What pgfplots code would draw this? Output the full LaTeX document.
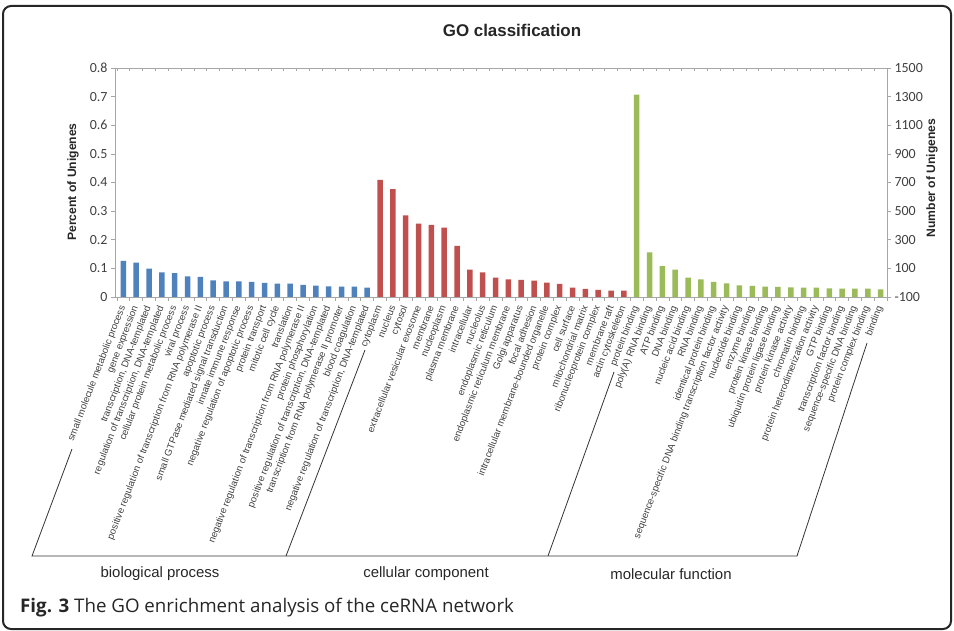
\documentclass[border=0pt]{standalone}
\usepackage{fontspec}
\setmainfont{Liberation Sans}
\newfontfamily\calib{Carlito}
\newfontfamily\opens{Open Sans}
\usepackage{pgfplots}
\usepackage{pgfplotstable}
\pgfplotsset{compat=1.18}

\definecolor{bpblue}{HTML}{4F81BD}
\definecolor{ccred}{HTML}{C0504D}
\definecolor{mfgreen}{HTML}{9BBB59}
\definecolor{axgray}{HTML}{A6A6A6}
\definecolor{txgray}{HTML}{404040}

% percent of unigenes
\pgfplotstableread{
x y
0 0.126
1 0.120
2 0.099
3 0.086
4 0.083
5 0.072
6 0.070
7 0.058
8 0.055
9 0.055
10 0.053
11 0.049
12 0.047
13 0.047
14 0.042
15 0.040
16 0.037
17 0.036
18 0.036
19 0.033
}\bpdata
\pgfplotstableread{
x y
20 0.409
21 0.377
22 0.285
23 0.256
24 0.252
25 0.242
26 0.179
27 0.096
28 0.086
29 0.068
30 0.062
31 0.060
32 0.057
33 0.050
34 0.046
35 0.033
36 0.028
37 0.025
38 0.022
39 0.022
}\ccdata
\pgfplotstableread{
x y
40 0.707
41 0.156
42 0.108
43 0.096
44 0.068
45 0.062
46 0.0525
47 0.048
48 0.041
49 0.0385
50 0.036
51 0.035
52 0.034
53 0.0325
54 0.0325
55 0.0305
56 0.029
57 0.029
58 0.029
59 0.027
}\mfdata

\pgfplotsset{
  goframe/.style={
    at={(115bp,-297bp)}, anchor=south west,
    width=772bp, height=229bp, scale only axis,
    xmin=-0.65, xmax=59.5,
    axis line style={draw=axgray, line width=0.8bp},
  },
}

\begin{document}
\begin{tikzpicture}[x=1bp,y=1bp]
\useasboundingbox (0,0) rectangle (954,-631);
\draw[line width=2bp, rounded corners=8bp, black!85] (3,-6) rectangle (951,-629);

\node[font=\bfseries\fontsize{17}{18}\selectfont, text=black!85] at (512,-30) {GO classification};

\begin{axis}[
  goframe, ymin=0, ymax=0.8,
  tick pos=left, tick align=outside,
  major tick length=4bp,
  ytick style={draw=axgray, line width=0.6bp},
  xtick style={draw=none},
  ytick={0,0.1,...,0.8},
  yticklabels={0,0.1,0.2,0.3,0.4,0.5,0.6,0.7,0.8},
  yticklabel style={font=\calib\fontsize{14}{14}\selectfont, text=txgray},
  xtick={0,...,59},
  xticklabel style={yshift=-4bp, rotate=69, anchor=east, inner sep=1bp,
    font=\fontsize{9.7}{10}\selectfont, text=txgray},
  xticklabels={
    small molecule metabolic process, gene expression,
    {transcription, DNA-templated},
    {regulation of transcription, DNA-templated},
    cellular protein metabolic process, viral process,
    positive regulation of transcription from RNA polymerase II,
    apoptotic process, small GTPase mediated signal transduction,
    innate immune response, negative regulation of apoptotic process,
    protein transport, mitotic cell cycle, translation,
    negative regulation of transcription from RNA polymerase II,
    protein phosphorylation,
    {positive regulation of transcription, DNA-templated},
    transcription from RNA polymerase II promoter, blood coagulation,
    {negative regulation of transcription, DNA-templated},
    cytoplasm, nucleus, cytosol, extracellular vesicular exosome,
    membrane, nucleoplasm, plasma membrane, intracellular, nucleolus,
    endoplasmic reticulum, endoplasmic reticulum membrane,
    Golgi apparatus, focal adhesion,
    intracellular membrane-bounded organelle, protein complex,
    cell surface, mitochondrial matrix, ribonucleoprotein complex,
    membrane raft, actin cytoskeleton,
    protein binding, poly(A) RNA binding, ATP binding, DNA binding,
    nucleic acid binding, RNA binding, identical protein binding,
    sequence-specific DNA binding transcription factor activity,
    nucleotide binding, enzyme binding, protein kinase binding,
    ubiquitin protein ligase binding, protein kinase activity,
    chromatin binding, protein heterodimerization activity,
    GTP binding, transcription factor binding,
    sequence-specific DNA binding, protein complex binding, binding},
]
\addplot[ybar, bar width=5.5bp, bar shift=0pt, fill=bpblue, draw=none]
  table[x=x, y=y] {\bpdata};
\addplot[ybar, bar width=5.5bp, bar shift=0pt, fill=ccred, draw=none]
  table[x=x, y=y] {\ccdata};
\addplot[ybar, bar width=5.5bp, bar shift=0pt, fill=mfgreen, draw=none]
  table[x=x, y=y] {\mfdata};
\end{axis}

% right-hand scale: number of unigenes
\begin{axis}[
  goframe, ymin=-100, ymax=1500,
  axis x line=none, axis y line*=right,
  tick align=outside, major tick length=4bp,
  every tick/.style={draw=axgray, line width=0.6bp},
  ytick={-100,100,...,1500},
  yticklabels={-100,100,300,500,700,900,1100,1300,1500},
  yticklabel style={font=\calib\fontsize{14}{14}\selectfont, text=txgray},
]
\end{axis}

% small ticks under the top edge
\begin{axis}[
  goframe, ymin=0, ymax=0.8,
  axis y line=none, axis x line*=top,
  tick align=inside, major tick length=3.5bp,
  every tick/.style={draw=axgray, line width=0.6bp},
  xtick={-0.5,0.5,...,59.5}, xticklabels={},
]
\end{axis}

% small ticks below the bottom edge, between categories
\begin{axis}[
  goframe, ymin=0, ymax=0.8,
  axis y line=none, axis x line*=bottom,
  tick align=outside, major tick length=3.5bp,
  every tick/.style={draw=axgray, line width=0.6bp},
  xtick={-0.5,0.5,...,59.5}, xticklabels={},
]
\end{axis}

\node[rotate=90, font=\bfseries\fontsize{12.2}{13}\selectfont, text=black!85] at (73,-182) {Percent of Unigenes};
\node[rotate=90, font=\bfseries\fontsize{12.2}{13}\selectfont, text=black!85] at (932,-178) {Number of Unigenes};

% group brackets of the category axis
\draw[line width=0.8bp, black!80] (72,-449) -- (32,-556) -- (797,-556) -- (867,-343);
\draw[line width=0.8bp, black!80] (286,-556) -- (365,-350);
\draw[line width=0.8bp, black!80] (548,-556) -- (614,-372);

\node[font=\fontsize{15}{16}\selectfont, text=black!85] at (160,-574) {biological process};
\node[font=\fontsize{15}{16}\selectfont, text=black!85] at (426,-574) {cellular component};
\node[font=\fontsize{15}{16}\selectfont, text=black!85] at (671,-574) {molecular function};

\node[anchor=west, inner sep=0pt, font=\opens\fontsize{18.8}{20}\selectfont, text=black!85] at (20,-608)
  {\textbf{Fig. 3} The GO enrichment analysis of the ceRNA network};
\end{tikzpicture}
\end{document}
